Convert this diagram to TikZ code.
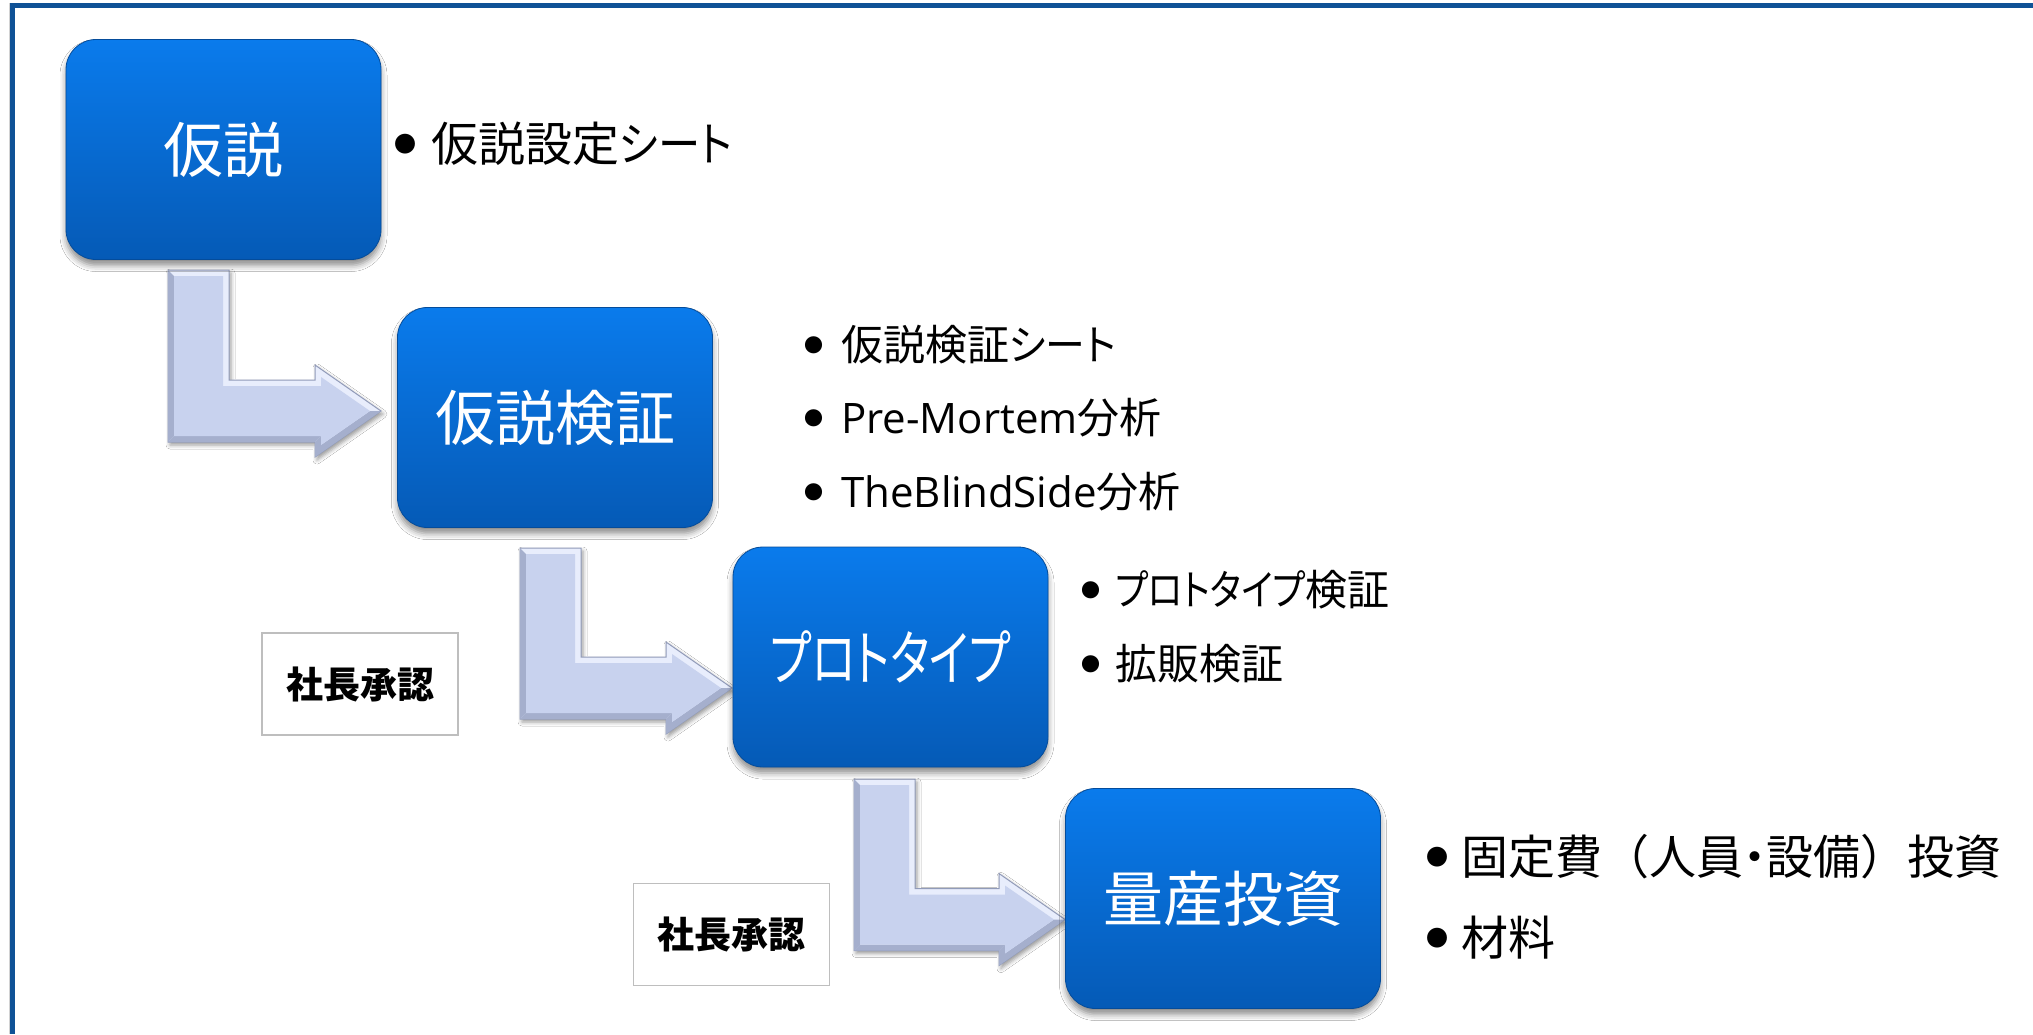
\documentclass[tikz,border=0pt]{standalone}
\usepackage{fontspec}
\setmainfont{Noto Sans CJK JP}
\newfontfamily\jpp{Noto Sans CJK JP}[RawFeature=+palt]
\newfontfamily\latn{Open Sans}
\newcommand{\kana}[2]{\scalebox{#1}[1]{\jpp #2}}
\usetikzlibrary{shadows.blur}
\definecolor{framecol}{RGB}{15,82,150}
\definecolor{boxtop}{RGB}{10,123,236}
\definecolor{boxbot}{RGB}{5,90,182}
\definecolor{arrfill}{RGB}{200,210,238}
\definecolor{arrdark}{RGB}{165,175,205}
\definecolor{arredge}{RGB}{145,155,185}
\definecolor{arrlight}{RGB}{232,237,252}
\definecolor{apprgray}{RGB}{190,190,190}
\tikzset{
  stepbox/.style={rounded corners=30pt, minimum width=315pt, minimum height=220pt,
    inner sep=0pt, top color=boxtop, bottom color=boxbot, draw=boxbot!85!black,
    line width=0.8pt, text=white, font=\fontsize{60}{72}\selectfont,
    blur shadow={shadow xshift=0pt, shadow yshift=-6pt, shadow blur radius=6pt, shadow opacity=45}},
  apprbox/.style={draw=apprgray, line width=1.5pt, fill=white, minimum width=196pt,
    minimum height=102pt, inner sep=0pt, font=\fontsize{37}{44}\selectfont\bfseries},
  bigitem/.style={anchor=west, inner sep=0pt, font=\fontsize{47}{56}\selectfont},
  smallitem/.style={anchor=west, inner sep=0pt, font=\fontsize{42}{50}\selectfont},
  bigbullet/.style={inner sep=0pt, font=\fontsize{22}{27}\selectfont},
  smallbullet/.style={inner sep=0pt, font=\fontsize{19}{23}\selectfont},
  arrbody/.style={fill=arrlight, draw=arredge, line width=1pt, line join=miter,
    blur shadow={shadow xshift=2pt, shadow yshift=-3pt, shadow blur radius=4pt, shadow opacity=40}},
  arrbevel/.style={fill=arrdark},
  arrinner/.style={fill=arrfill},
}
% #1 left x of vertical bar, #2 top y, #3 tip x, #4 tip y
\newcommand{\bentarrow}[4]{%
  \path[arrbody] (#1,#2) -- (#1+61,#2) -- (#1+61,#4-31) -- (#3-66,#4-31) -- (#3-66,#4-46)
    -- (#3,#4) -- (#3-66,#4+46) -- (#3-66,#4+31) -- (#1,#4+31) -- cycle;
  \fill[arrbevel] (#1,#2) -- (#1+6,#2+6) -- (#1+6,#4+25) -- (#1,#4+31) -- cycle;
  \fill[arrbevel] (#1,#4+31) -- (#1+6,#4+25) -- (#3-60,#4+25) -- (#3-66,#4+31) -- cycle;
  \fill[arrbevel] (#3-66,#4+31) -- (#3-60,#4+25) -- (#3-60,#4+34) -- (#3-11,#4) -- (#3,#4) -- (#3-66,#4+46) -- cycle;
  \fill[arrinner] (#1+6,#2+6) -- (#1+55,#2+6) -- (#1+55,#4-25) -- (#3-60,#4-25) -- (#3-60,#4-34)
    -- (#3-11,#4) -- (#3-60,#4+34) -- (#3-60,#4+25) -- (#1+6,#4+25) -- cycle;
}
\begin{document}
\begin{tikzpicture}[x=1pt,y=-1pt]
\useasboundingbox (0,0) rectangle (2033,1034);
\fill[white] (0,0) rectangle (2033,1034);
% frame
\draw[gray!35, line width=1pt] (9.5,3) -- (9.5,1034);
\draw[framecol, line width=5pt] (10,5.5) -- (2033,5.5);
\draw[framecol, line width=5pt] (12.5,3) -- (12.5,1034);
% bent arrows
\bentarrow{168}{270}{381}{411}
\bentarrow{520}{548}{732}{688}
\bentarrow{854}{779}{1065}{919.5}
% step boxes
\node[stepbox] (b1) at (223.5,149.5) {仮説};
\node[stepbox] (b2) at (555,417.5) {仮説検証};
\node[stepbox] (b3) at (890.5,657) {\kana{0.75}{プロトタイプ}};
\node[stepbox] (b4) at (1223,898.5) {量産投資};
% approvals
\node[apprbox] (ap1) at (360,684) {社長承認};
\node[apprbox] (ap2) at (731.5,934.5) {社長承認};
% lists
\node[bigbullet] (u1) at (405,144) {●};
\node[bigitem] (l1) at (431,144) {仮説設定\kana{0.9}{シート}};
\node[smallbullet] (u2a) at (814,345) {●};
\node[smallitem] (l2a) at (841,345) {仮説検証\kana{0.95}{シート}};
\node[smallbullet] (u2b) at (814,418) {●};
\node[smallitem] (l2b) at (841,418) {{\latn Pre-Mortem}分析};
\node[smallbullet] (u2c) at (814,492) {●};
\node[smallitem] (l2c) at (841,492) {{\latn TheBlindSide}分析};
\node[smallbullet] (u3a) at (1091,590) {●};
\node[smallitem] (l3a) at (1115,590) {\kana{0.85}{プロトタイプ}検証};
\node[smallbullet] (u3b) at (1091,664) {●};
\node[smallitem] (l3b) at (1115,664) {拡販検証};
\node[bigbullet] (u4a) at (1437,857) {●};
\node[bigitem] (l4a) at (1461,857) {固定費（人員{\jpp ・}設備）投資};
\node[bigbullet] (u4b) at (1437,938) {●};
\node[bigitem] (l4b) at (1461,938) {材料};
\end{tikzpicture}
\end{document}
